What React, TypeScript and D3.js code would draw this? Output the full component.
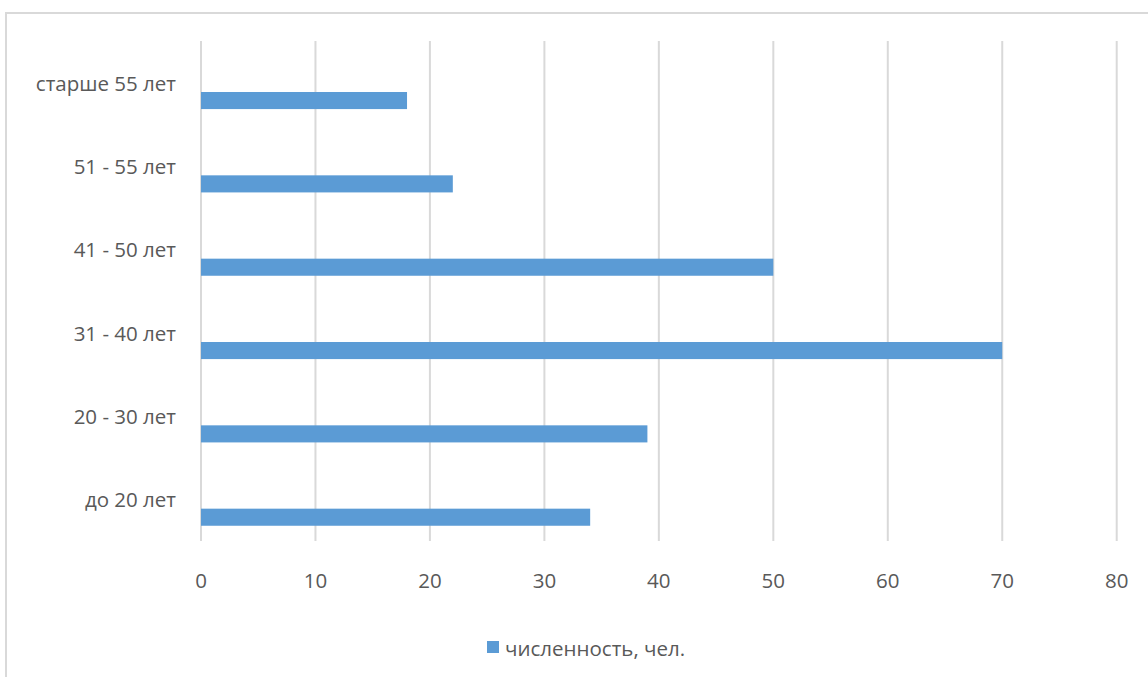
import React from "react";
import * as d3 from "d3";

const categories = ["старше 55 лет", "51 - 55 лет", "41 - 50 лет", "31 - 40 лет", "20 - 30 лет", "до 20 лет"];
const values = [18, 22, 50, 70, 39, 34];
const xTicks = [0, 10, 20, 30, 40, 50, 60, 70, 80];
const seriesName = "численность, чел.";

const W = 1148;
const H = 677;
const FONT = "'Open Sans', 'Noto Sans', sans-serif";
const FS = 20.5;
const TEXT = "#595959";
const BAR = "#5b9bd5";
const GRID = "#d9d9d9";

export default function App() {
  const x = d3.scaleLinear().domain([0, 80]).range([201, 1116.7]);
  const y = d3.scaleBand<string>().domain(categories).range([41, 541]).padding(0);
  const bw = y.bandwidth();

  return (
    <svg width={W} height={H} style={{ position: "absolute", left: 0, top: 0, background: "#fff" }}>
      <rect x={6} y={13} width={W + 20} height={H + 20} fill="#fff" stroke={GRID} strokeWidth={2} />
      {xTicks.map((t) => (
        <line key={"g" + t} x1={x(t)} x2={x(t)} y1={41} y2={541} stroke={GRID} strokeWidth={2} />
      ))}
      {categories.map((c, i) => (
        <rect
          key={"b" + c}
          x={x(0)}
          y={(y(c) as number) + bw * 0.612}
          width={x(values[i]) - x(0)}
          height={bw * 0.205}
          fill={BAR}
        />
      ))}
      {categories.map((c) => (
        <text
          key={"l" + c}
          x={176}
          y={(y(c) as number) + bw / 2}
          textAnchor="end"
          dominantBaseline="central"
          fontFamily={FONT}
          fontSize={FS}
          fill={TEXT}
        >
          {c}
        </text>
      ))}
      {xTicks.map((t) => (
        <text
          key={"t" + t}
          x={x(t)}
          y={580}
          textAnchor="middle"
          dominantBaseline="central"
          fontFamily={FONT}
          fontSize={FS}
          fill={TEXT}
        >
          {t}
        </text>
      ))}
      <rect x={487} y={641} width={12} height={12} fill={BAR} />
      <text x={505} y={648} dominantBaseline="central" fontFamily={FONT} fontSize={FS} fill={TEXT}>
        {seriesName}
      </text>
    </svg>
  );
}
